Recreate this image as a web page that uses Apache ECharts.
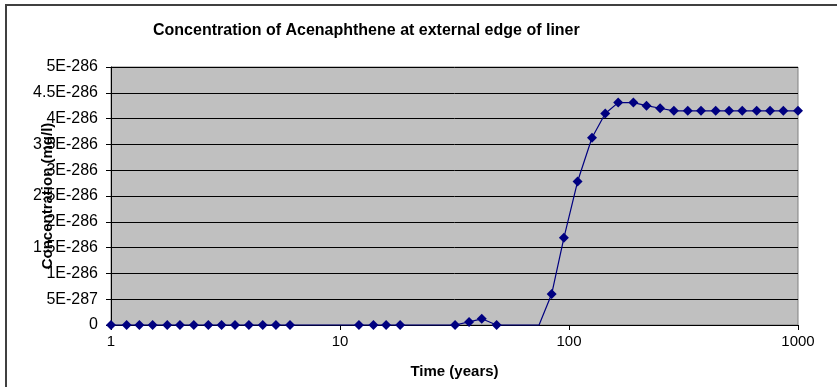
<!DOCTYPE html>
<html>
<head>
<meta charset="utf-8">
<script src="https://cdn.jsdelivr.net/npm/echarts@6/dist/echarts.min.js"></script>
<style>
  html, body { margin: 0; padding: 0; background: #fff; }
  #chart { width: 837px; height: 387px; }
</style>
</head>
<body>
<div id="chart"></div>
<script>
// concentration values are kept in units of 1E-287 mg/l (raw doubles this small break axis precision math)
const times = [
  1, 1.17, 1.33, 1.52, 1.76, 2.0, 2.3, 2.66, 3.04, 3.48, 4.0, 4.6, 5.25, 6.05,
  6.9, 7.9, 9.0, 10.4,
  12.1, 14.0, 15.9, 18.3,
  20.9, 23.9, 27.5,
  31.8, 36.6, 41.6, 48.3,
  55, 63, 74,
  84, 95, 109, 126, 144, 164, 191, 218, 250, 287, 330, 377, 437, 500, 571, 660, 755, 863, 1000
];
const conc = [
  0, 0, 0, 0, 0, 0, 0, 0, 0, 0, 0, 0, 0, 0,
  0, 0, 0, 0,
  0, 0, 0, 0,
  0, 0, 0,
  0, 0.6, 1.2, 0,
  0, 0, 0,
  6.0, 16.9, 27.8, 36.3, 41.0, 43.1, 43.1, 42.5, 42.0, 41.5, 41.5, 41.5, 41.5, 41.5, 41.5, 41.5, 41.5, 41.5, 41.5
];
// points where the original plot shows no marker
const unmarkedTimes = [6.9, 7.9, 9.0, 10.4, 20.9, 23.9, 27.5, 55, 63, 74];
const xTicks = [1, 10, 100, 1000];
const yTicks = [0, 5, 10, 15, 20, 25, 30, 35, 40, 45, 50];

const FONT = '"Liberation Sans", Arial, sans-serif';

function yLabel(v) {
  if (v === 0) return '0';
  if (v < 10) return v + 'E-287';
  return (v / 10) + 'E-286';
}

const seriesData = times.map((t, i) => {
  const item = { value: [t, conc[i]] };
  if (unmarkedTimes.indexOf(t) >= 0) item.symbol = 'none';
  return item;
});

const chart = echarts.init(document.getElementById('chart'), null, { renderer: 'canvas' });

chart.setOption({
  animation: false,
  backgroundColor: '#ffffff',
  title: {
    text: 'Concentration of Acenaphthene at external edge of liner',
    left: 148,
    top: 18,
    textStyle: { fontFamily: FONT, fontSize: 16, fontWeight: 'bold', color: '#000' }
  },
  graphic: [{
    type: 'rect',
    shape: { x: 6, y: 5, width: 900, height: 500 },
    style: { fill: 'none', stroke: '#404040', lineWidth: 2 },
    silent: true
  }],
  grid: {
    left: 111,
    right: 39,
    top: 67,
    bottom: 62,
    show: true,
    backgroundColor: '#c0c0c0',
    borderColor: '#808080',
    borderWidth: 1
  },
  xAxis: {
    type: 'log',
    logBase: 10,
    min: xTicks[0],
    max: xTicks[xTicks.length - 1],
    name: 'Time (years)',
    nameLocation: 'middle',
    nameGap: 39,
    nameTextStyle: { fontFamily: FONT, fontSize: 15, fontWeight: 'bold', color: '#000' },
    axisLine: { show: true, lineStyle: { color: '#000', width: 1 } },
    axisTick: { show: true, length: 5, lineStyle: { color: '#000' } },
    axisLabel: { fontFamily: FONT, fontSize: 15, color: '#000', margin: 9, formatter: v => String(v) },
    minorTick: { show: false },
    splitLine: { show: false }
  },
  yAxis: {
    type: 'value',
    min: yTicks[0],
    max: yTicks[yTicks.length - 1],
    interval: 5,
    name: 'Concentration (mg/l)',
    nameLocation: 'middle',
    nameGap: 56,
    nameMoveOverlap: false,
    nameTextStyle: { fontFamily: FONT, fontSize: 15, fontWeight: 'bold', color: '#000' },
    axisLine: { show: true, lineStyle: { color: '#000', width: 1 } },
    axisTick: { show: true, length: 5, lineStyle: { color: '#000' } },
    axisLabel: { fontFamily: FONT, fontSize: 16, color: '#000', margin: 13, formatter: yLabel },
    splitLine: { show: true, lineStyle: { color: '#000', width: 1 } }
  },
  series: [{
    type: 'line',
    name: 'Concentration',
    data: seriesData,
    symbol: 'diamond',
    symbolSize: 10,
    clip: false,
    lineStyle: { color: '#000080', width: 1.2 },
    itemStyle: { color: '#000080' }
  }]
});
</script>
</body>
</html>
